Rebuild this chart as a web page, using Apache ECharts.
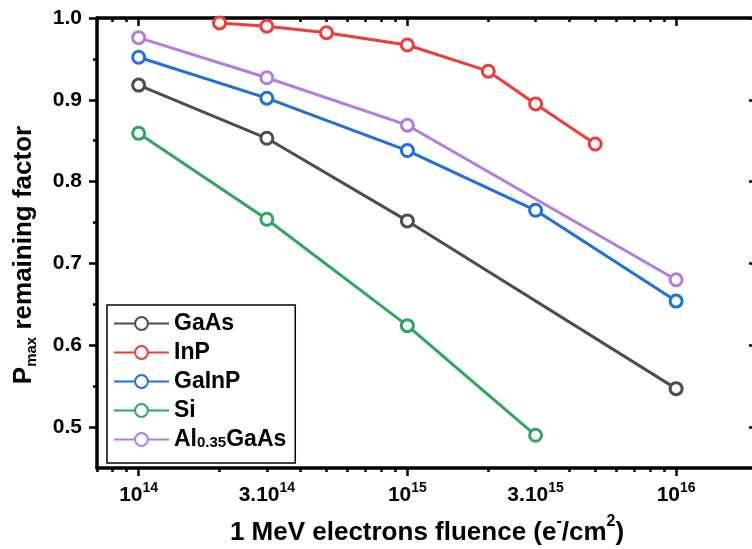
<!DOCTYPE html>
<html>
<head>
<meta charset="utf-8">
<script src="https://cdn.jsdelivr.net/npm/echarts@6/dist/echarts.min.js"></script>
<style>html,body{margin:0;padding:0;background:#fff;}#c{width:752px;height:549px;}</style>
</head>
<body>
<div id="c"></div>
<script>
// ---- data ----
const fluenceGaAs = [1e14, 3e14, 1e15, 1e16];
const valuesGaAs = [0.918, 0.853, 0.752, 0.547];
const fluenceInP = [2e14, 3e14, 5e14, 1e15, 2e15, 3e15, 5e15];
const valuesInP = [0.994, 0.990, 0.982, 0.967, 0.935, 0.895, 0.846];
const fluenceGaInP = [1e14, 3e14, 1e15, 3e15, 1e16];
const valuesGaInP = [0.952, 0.902, 0.838, 0.765, 0.654];
const fluenceSi = [1e14, 3e14, 1e15, 3e15];
const valuesSi = [0.859, 0.754, 0.624, 0.490];
const fluenceAlGaAs = [1e14, 3e14, 1e15, 1e16];
const valuesAlGaAs = [0.976, 0.927, 0.869, 0.680];
const seriesNames = ['GaAs', 'InP', 'GaInP', 'Si', 'Al0.35GaAs'];

// ---- ticks ----
const xMajorTicks = [1e14, 1e15, 1e16];
const xMinorTicks = [7e13, 8e13, 9e13, 2e14, 3e14, 4e14, 5e14, 6e14, 7e14, 8e14, 9e14,
  2e15, 3e15, 4e15, 5e15, 6e15, 7e15, 8e15, 9e15, 2e16];
const xTickLabels = [1e14, 3e14, 1e15, 3e15, 1e16];
const yMajorTicks = [0.5, 0.6, 0.7, 0.8, 0.9, 1.0];
const yMinorTicks = [0.55, 0.65, 0.75, 0.85, 0.95];

const colors = ['#4d4d4d', '#f03b3b', '#1e6fe0', '#2ea65f', '#b27ddf'];
const FONT = 'Liberation Sans, Arial, sans-serif';

function pairs(xs, ys) { return xs.map((x, i) => [x, ys[i]]); }
const seriesData = [
  pairs(fluenceGaAs, valuesGaAs),
  pairs(fluenceInP, valuesInP),
  pairs(fluenceGaInP, valuesGaInP),
  pairs(fluenceSi, valuesSi),
  pairs(fluenceAlGaAs, valuesAlGaAs)
];

function fmtFluence(v) {
  const e = Math.floor(Math.log10(v) + 1e-9);
  const m = Math.round(v / Math.pow(10, e));
  return (m === 1 ? '' : m + '.') + '10{sup|' + e + '}';
}

const tickStyle = { color: '#000', width: 2.5 };
const xMin = 7e13, xMax = 2e16, yMin = 0.45, yMax = 1.0;

function xAx(extra) {
  return Object.assign({
    type: 'log', logBase: 10, min: xMin, max: xMax, gridIndex: 0,
    splitLine: { show: false }, minorTick: { show: false }, minorSplitLine: { show: false },
    axisLine: { show: false }, axisLabel: { show: false }
  }, extra);
}
function yAx(extra) {
  return Object.assign({
    type: 'value', min: yMin, max: yMax, gridIndex: 0,
    splitLine: { show: false }, minorTick: { show: false },
    axisLine: { show: false }, axisLabel: { show: false }
  }, extra);
}

const option = {
  animation: false,
  backgroundColor: '#fff',
  grid: { left: 97, top: 18, width: 660, height: 450, containLabel: false, outerBoundsMode: 'none' },
  xAxis: [
    xAx({
      position: 'bottom',
      axisLine: { show: true, lineStyle: { color: '#000', width: 3.5 } },
      axisTick: { show: true, inside: false, length: 8, customValues: xMajorTicks, lineStyle: tickStyle },
      axisLabel: {
        show: true, customValues: xTickLabels, margin: 13, formatter: fmtFluence,
        color: '#000', fontFamily: FONT, fontSize: 21, fontWeight: 'bold', lineHeight: 28,
        rich: { sup: { fontFamily: FONT, fontSize: 14, fontWeight: 'bold', color: '#000', verticalAlign: 'top', lineHeight: 14 } }
      },
      name: '1 MeV electrons fluence (e{sup|-}/cm{sup|2})',
      nameLocation: 'middle', nameGap: 39,
      nameTextStyle: {
        color: '#000', fontFamily: FONT, fontSize: 26, fontWeight: 'bold', lineHeight: 38,
        rich: { sup: { fontFamily: FONT, fontSize: 16, fontWeight: 'bold', color: '#000', verticalAlign: 'top', lineHeight: 16 } }
      }
    }),
    xAx({ position: 'bottom', axisTick: { show: true, inside: false, length: 4, customValues: xMinorTicks, lineStyle: tickStyle } }),
    xAx({
      position: 'top',
      axisLine: { show: true, lineStyle: { color: '#000', width: 3.5 } },
      axisTick: { show: true, inside: true, length: 8, customValues: xMajorTicks, lineStyle: tickStyle }
    }),
    xAx({ position: 'top', axisTick: { show: true, inside: true, length: 4, customValues: xMinorTicks, lineStyle: tickStyle } })
  ],
  yAxis: [
    yAx({
      position: 'left',
      axisLine: { show: true, lineStyle: { color: '#000', width: 3.5 } },
      axisTick: { show: true, inside: false, length: 8, customValues: yMajorTicks, lineStyle: tickStyle },
      axisLabel: {
        show: true, customValues: yMajorTicks, margin: 15, formatter: v => v.toFixed(1),
        color: '#000', fontFamily: FONT, fontSize: 21, fontWeight: 'bold'
      },
      name: 'P{sub|max} remaining factor',
      nameLocation: 'middle', nameGap: 58, nameRotate: 90,
      nameTextStyle: {
        color: '#000', fontFamily: FONT, fontSize: 26, fontWeight: 'bold', lineHeight: 30,
        padding: [0, 24, 0, 0],
        rich: { sub: { fontFamily: FONT, fontSize: 15, fontWeight: 'bold', color: '#000', verticalAlign: 'bottom', lineHeight: 6 } }
      }
    }),
    yAx({ position: 'left', axisTick: { show: true, inside: false, length: 4, customValues: yMinorTicks, lineStyle: tickStyle } }),
    yAx({
      position: 'right',
      axisLine: { show: true, lineStyle: { color: '#000', width: 3.5 } },
      axisTick: { show: true, inside: true, length: 8, customValues: yMajorTicks, lineStyle: tickStyle }
    }),
    yAx({ position: 'right', axisTick: { show: true, inside: true, length: 4, customValues: yMinorTicks, lineStyle: tickStyle } })
  ],
  legend: {
    orient: 'vertical', left: 107, top: 305,
    backgroundColor: '#fff', borderColor: '#000', borderWidth: 1.5, borderRadius: 0,
    padding: [7, 9, 12, 6], itemWidth: 55, itemHeight: 16, itemGap: 6, itemTextGap: 6,
    data: seriesNames,
    formatter: n => n === 'Al0.35GaAs' ? 'Al{sub|0.35}GaAs' : n,
    textStyle: {
      color: '#000', fontFamily: FONT, fontSize: 23, fontWeight: 'bold', lineHeight: 22,
      rich: { sub: { fontFamily: FONT, fontSize: 15, fontWeight: 'bold', color: '#000', verticalAlign: 'bottom', lineHeight: 2 } }
    }
  },
  series: seriesNames.map((n, i) => ({
    name: n, type: 'line', xAxisIndex: 0, yAxisIndex: 0,
    data: seriesData[i],
    symbol: 'circle', symbolSize: 12,
    color: colors[i],
    lineStyle: { color: colors[i], width: 3 },
    itemStyle: { color: '#fff', borderColor: colors[i], borderWidth: 3 },
    emphasis: { disabled: true },
    z: 3 + i
  }))
};

const chart = echarts.init(document.getElementById('c'), null, { renderer: 'canvas' });
chart.setOption(option);
</script>
</body>
</html>
